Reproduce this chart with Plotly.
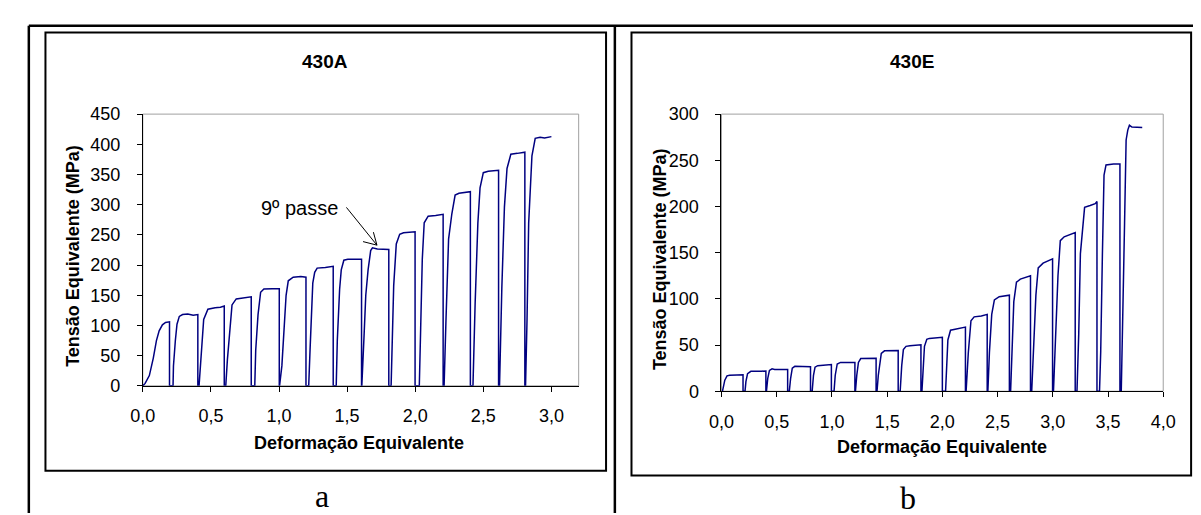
import plotly.graph_objects as go

W, H = 1201, 515

# ---------------- data: 430A (per pass) ----------------
eps_430A = [
    [0.0, 0.017, 0.048, 0.077, 0.10, 0.12, 0.144, 0.167, 0.196, 0.196],
    [0.222, 0.225, 0.239, 0.251, 0.268, 0.292, 0.33, 0.37, 0.404, 0.404],
    [0.413, 0.423, 0.435, 0.447, 0.478, 0.531, 0.57, 0.598, 0.598],
    [0.609, 0.621, 0.638, 0.655, 0.686, 0.746, 0.775, 0.796, 0.796],
    [0.822, 0.829, 0.846, 0.865, 0.889, 0.95, 1.002, 1.002],
    [1.004, 1.021, 1.037, 1.052, 1.068, 1.104, 1.16, 1.198, 1.198],
    [1.218, 1.228, 1.238, 1.248, 1.262, 1.28, 1.34, 1.398, 1.398],
    [1.42, 1.428, 1.445, 1.457, 1.476, 1.505, 1.606, 1.606],
    [1.608, 1.625, 1.637, 1.654, 1.673, 1.686, 1.722, 1.806, 1.806],
    [1.823, 1.830, 1.842, 1.861, 1.886, 1.914, 1.999, 1.999],
    [2.03, 2.04, 2.052, 2.066, 2.095, 2.15, 2.205, 2.205],
    [2.212, 2.226, 2.245, 2.269, 2.293, 2.321, 2.36, 2.405, 2.405],
    [2.424, 2.44, 2.46, 2.476, 2.5, 2.536, 2.607, 2.612, 2.612],
    [2.619, 2.636, 2.655, 2.674, 2.702, 2.75, 2.802, 2.805, 2.805],
    [2.81, 2.821, 2.833, 2.857, 2.881, 2.917, 2.95, 3.0],
]
sig_430A = [
    [0, 4, 17, 46, 75, 91, 101, 105, 106, 0],
    [0, 33, 75, 102, 115, 118, 119, 117, 118, 0],
    [0, 33, 86, 110, 127, 129.5, 130, 132, 0],
    [0, 43, 91, 134, 144, 145.5, 147, 147.5, 0],
    [0, 59, 118, 155, 160.5, 161, 161, 0],
    [0, 33, 86, 150, 174, 180, 181, 180, 0],
    [0, 60, 125, 170, 188, 195, 196, 198, 0],
    [0, 75, 160, 192, 208, 209.5, 209.5, 0],
    [0, 86, 150, 192, 224, 228.5, 226.5, 226, 0],
    [0, 60, 166, 235, 251, 253.5, 255, 0],
    [0, 95, 210, 270, 281, 282, 284, 0],
    [0, 110, 243, 285, 316, 319, 320, 321.5, 0],
    [0, 137, 269.5, 328, 353, 355.4, 356.5, 357, 0],
    [0, 163, 296, 360, 383.6, 385, 387, 387, 0],
    [0, 110, 269.5, 381, 410, 411.7, 410.5, 412.7],
]

# ---------------- data: 430E (per pass) ----------------
eps_430E = [
    [0.009, 0.021, 0.03, 0.05, 0.074, 0.14, 0.195, 0.195],
    [0.213, 0.221, 0.236, 0.266, 0.31, 0.36, 0.402, 0.402],
    [0.407, 0.419, 0.434, 0.458, 0.481, 0.54, 0.599, 0.599],
    [0.614, 0.626, 0.641, 0.664, 0.723, 0.806, 0.806],
    [0.821, 0.833, 0.847, 0.871, 0.93, 0.995, 0.995],
    [1.019, 1.03, 1.048, 1.078, 1.208, 1.208],
    [1.213, 1.225, 1.24, 1.261, 1.40, 1.40],
    [1.408, 1.42, 1.432, 1.447, 1.476, 1.60, 1.60],
    [1.618, 1.632, 1.647, 1.671, 1.706, 1.806, 1.806],
    [1.815, 1.824, 1.838, 1.859, 1.882, 2.0, 2.0],
    [2.029, 2.035, 2.05, 2.074, 2.118, 2.209, 2.209],
    [2.215, 2.235, 2.259, 2.288, 2.353, 2.406, 2.406],
    [2.412, 2.426, 2.447, 2.471, 2.515, 2.607, 2.607],
    [2.618, 2.632, 2.647, 2.671, 2.706, 2.798, 2.798],
    [2.809, 2.829, 2.847, 2.868, 2.912, 2.998, 2.998],
    [3.006, 3.029, 3.047, 3.068, 3.103, 3.203, 3.203],
    [3.219, 3.235, 3.25, 3.265, 3.288, 3.338, 3.384, 3.4, 3.4],
    [3.423, 3.434, 3.449, 3.464, 3.482, 3.55, 3.608, 3.608],
    [3.62, 3.635, 3.65, 3.664, 3.679, 3.694, 3.717, 3.81],
]
sig_430E = [
    [0, 7, 12, 16.6, 17.3, 17.6, 17.7, 0],
    [0, 10.4, 19, 21.5, 21.9, 21.6, 21.9, 0],
    [0, 14, 22.5, 24.3, 23.6, 23.6, 23.6, 0],
    [0, 14, 25, 27, 26.7, 26.5, 0],
    [0, 17.3, 26, 27.7, 28.4, 28.8, 0],
    [0, 17.3, 29.5, 31.2, 31.2, 0],
    [0, 17.3, 31.2, 35.4, 35.7, 0],
    [0, 17.3, 31.2, 41, 43.7, 44, 0],
    [0, 27.7, 45, 48.6, 49.3, 50.3, 0],
    [0, 20.8, 48.6, 56.2, 57.2, 58.3, 0],
    [0, 20.8, 55.5, 66, 67.3, 69.4, 0],
    [0, 41.6, 76.3, 80.5, 81.5, 83.2, 0],
    [0, 41.6, 83.2, 98.9, 102.3, 104, 0],
    [0, 45, 97, 118, 121.4, 124.9, 0],
    [0, 55.5, 104, 133.5, 138.7, 143.3, 0],
    [0, 62.4, 125, 163, 167.2, 171.7, 0],
    [0, 62.4, 149, 170, 199, 201, 203, 205.3, 0],
    [0, 43, 147, 234, 245, 246, 246, 0],
    [0, 78, 182, 272, 282.7, 287.9, 286, 285.5],
]

titles = ["430A", "430E"]
panel_labels = ["a", "b"]
x_title = "Deformação Equivalente"
y_title = "Tensão Equivalente (MPa)"
note_text = "9º passe"
note_pos = (1.149, 295)
arrow_tip = (1.719, 233)
arrow_tail = (1.486, 298)
arrow_barbs = [(1.606, 239.5), (1.69, 257)]

x_ranges = [[0, 3.2], [0, 4.0]]
x_ticks = [[0, 0.5, 1.0, 1.5, 2.0, 2.5, 3.0], [0, 0.5, 1.0, 1.5, 2.0, 2.5, 3.0, 3.5, 4.0]]
y_ranges = [[0, 450], [0, 300]]
y_ticks = [list(range(0, 451, 50)), list(range(0, 301, 50))]


def flat(groups):
    out = []
    for g in groups:
        out.extend(g)
    return out


def px(X):
    return X / W


def py(Y):
    return 1 - Y / H


SANS = "Arial, Liberation Sans, sans-serif"
SERIF = "Times New Roman, Liberation Serif, serif"
LINE = "#000080"

fig = go.Figure()
fig.add_trace(go.Scatter(x=flat(eps_430A), y=flat(sig_430A), mode="lines",
                         line=dict(color=LINE, width=1.5), xaxis="x", yaxis="y",
                         showlegend=False, hoverinfo="skip"))
fig.add_trace(go.Scatter(x=flat(eps_430E), y=flat(sig_430E), mode="lines",
                         line=dict(color=LINE, width=1.5), xaxis="x2", yaxis="y2",
                         showlegend=False, hoverinfo="skip"))

dom_x = [[px(124.5), px(570)], [px(716), px(1167.5)]]
dom_y = [[py(382.7), py(100)], [py(388.3), py(100)]]

def xaxis(i):
    return dict(domain=dom_x[i], range=x_ranges[i], tickvals=x_ticks[i], tickformat=".1f",
                showline=True, linecolor="black", linewidth=1, ticks="outside", ticklen=5,
                tickcolor="black", tickwidth=1, showgrid=False, zeroline=False,
                tickfont=dict(family=SANS, size=18, color="black"), ticklabelstandoff=9,
                anchor="y" if i == 0 else "y2", fixedrange=True)

def yaxis(i):
    return dict(domain=dom_y[i], range=y_ranges[i], tickvals=y_ticks[i],
                showline=True, linecolor="black", linewidth=1, ticks="outside", ticklen=5,
                tickcolor="black", tickwidth=1, showgrid=False, zeroline=False,
                tickfont=dict(family=SANS, size=18, color="black"), ticklabelstandoff=13,
                anchor="x" if i == 0 else "x2", fixedrange=True)

shapes = []
# outer page lines
for (x0, y0, x1, y1) in [(8, 8, 1201, 8), (8, 8, 8, 515), (607, 8, 607, 515), (1199.5, 8, 1199.5, 515)]:
    shapes.append(dict(type="line", xref="paper", yref="paper", x0=px(x0), y0=py(y0),
                       x1=px(x1), y1=py(y1), line=dict(color="black", width=2.5)))
# chart frames
for (x0, y0, x1, y1) in [(25, 15, 598, 471), (624, 15, 1196, 476)]:
    shapes.append(dict(type="rect", xref="paper", yref="paper", x0=px(x0), y0=py(y0),
                       x1=px(x1), y1=py(y1), line=dict(color="black", width=2)))
# plot area border (grey top/right)
for xr, yr in [("x domain", "y domain"), ("x2 domain", "y2 domain")]:
    shapes.append(dict(type="rect", xref=xr, yref=yr, x0=0, y0=0, x1=1, y1=1,
                       line=dict(color="#a0a0a0", width=1), layer="below"))

ann = []
for t, X in zip(titles, [311, 911]):
    ann.append(dict(text="<b>%s</b>" % t, xref="paper", yref="paper", x=px(X), y=py(45),
                    showarrow=False, font=dict(family=SANS, size=19, color="black"),
                    xanchor="center", yanchor="middle"))
for X, Y in [(345, 442), (941, 446)]:
    ann.append(dict(text="<b>%s</b>" % x_title, xref="paper", yref="paper", x=px(X), y=py(Y),
                    showarrow=False, font=dict(family=SANS, size=18, color="black"),
                    xanchor="center", yanchor="middle"))
for X, Y in [(53.6, 247), (653, 251)]:
    ann.append(dict(text="<b>%s</b>" % y_title, xref="paper", yref="paper", x=px(X), y=py(Y),
                    showarrow=False, textangle=-90, font=dict(family=SANS, size=18, color="black"),
                    xanchor="center", yanchor="middle"))
for t, X, Y in zip(panel_labels, [308, 906.5], [497, 499]):
    ann.append(dict(text=t, xref="paper", yref="paper", x=px(X), y=py(Y),
                    showarrow=False, font=dict(family=SERIF, size=32, color="black"),
                    xanchor="center", yanchor="middle"))
ann.append(dict(text=note_text, xref="x", yref="y", x=note_pos[0], y=note_pos[1],
                showarrow=False, font=dict(family=SANS, size=20, color="black"),
                xanchor="center", yanchor="middle"))
# arrow: shaft + two barbs (open V head)
for start in [arrow_tail] + arrow_barbs:
    ann.append(dict(text="", xref="x", yref="y", x=arrow_tip[0], y=arrow_tip[1],
                    axref="x", ayref="y", ax=start[0], ay=start[1],
                    showarrow=True, arrowhead=0, arrowwidth=1, arrowcolor="black",
                    standoff=0, startstandoff=0))

fig.update_layout(width=W, height=H, autosize=False, margin=dict(l=0, r=0, t=0, b=0),
                  paper_bgcolor="white", plot_bgcolor="white", separators=",.",
                  xaxis=xaxis(0), yaxis=yaxis(0), xaxis2=xaxis(1), yaxis2=yaxis(1),
                  shapes=shapes, annotations=ann, showlegend=False)

fig.write_html("out.html", config={"displayModeBar": False})
